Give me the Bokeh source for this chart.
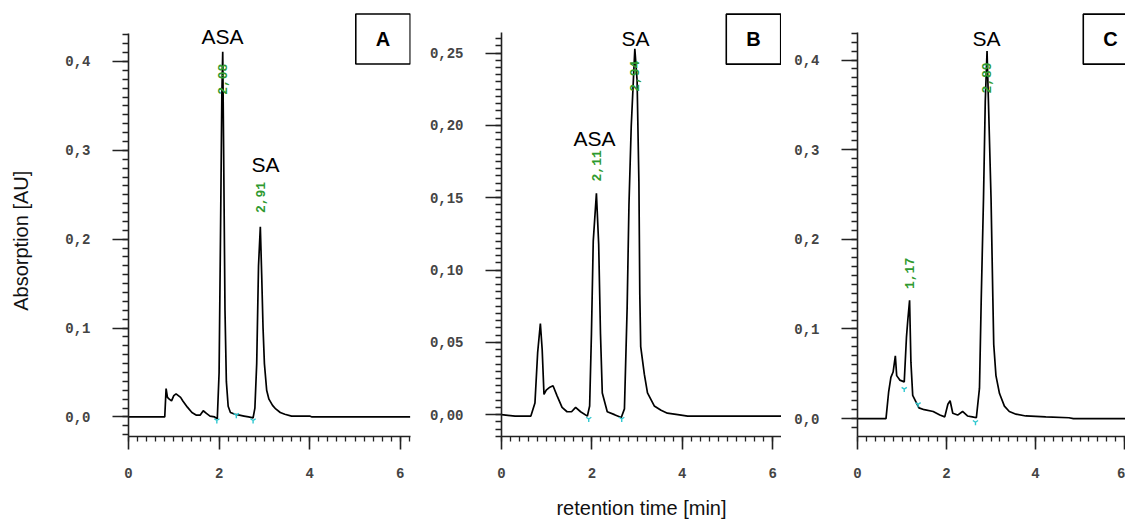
import numpy as np
from bokeh.plotting import figure
from bokeh.layouts import row
from bokeh.models import Range1d, FixedTicker, Label
from bokeh.embed import file_html
from bokeh.resources import INLINE

# ---------------- data ----------------
A_t = [0.00, 0.80, 0.83, 0.86, 0.90, 0.95, 1.00, 1.05, 1.10, 1.15, 1.20, 1.30, 1.40, 1.50, 1.58, 1.65, 1.72,
       1.80, 1.90, 1.96, 2.00, 2.03, 2.06, 2.08, 2.10, 2.13, 2.16, 2.20, 2.25, 2.35, 2.45, 2.55, 2.65, 2.75,
       2.79, 2.83, 2.87, 2.91, 2.94, 2.97, 3.00, 3.05, 3.10, 3.18, 3.25, 3.35, 3.45, 3.60, 3.80, 4.00, 4.05, 6.22]
A_y = [0.000, 0.000, 0.032, 0.022, 0.020, 0.018, 0.024, 0.026, 0.024, 0.022, 0.018, 0.011, 0.005, 0.002, 0.002,
       0.007, 0.004, 0.001, 0.000, -0.002, 0.050, 0.200, 0.360, 0.411, 0.300, 0.120, 0.040, 0.012, 0.005, 0.003,
       0.002, 0.001, 0.000, -0.001, 0.010, 0.060, 0.170, 0.214, 0.160, 0.100, 0.060, 0.030, 0.020, 0.013, 0.009,
       0.005, 0.003, 0.001, 0.001, 0.001, 0.000, 0.000]

B_t = [0.00, 0.30, 0.65, 0.74, 0.80, 0.86, 0.90, 0.94, 0.99, 1.07, 1.14, 1.23, 1.34, 1.45, 1.55, 1.64, 1.75,
       1.90, 1.95, 1.99, 2.03, 2.10, 2.15, 2.19, 2.23, 2.34, 2.50, 2.65, 2.72, 2.78, 2.82, 2.87, 2.95, 3.00,
       3.04, 3.06, 3.08, 3.16, 3.23, 3.38, 3.53, 3.67, 3.90, 4.12, 6.20]
B_y = [0.000, -0.001, -0.001, 0.008, 0.043, 0.063, 0.045, 0.014, 0.017, 0.019, 0.020, 0.013, 0.005, 0.002,
       0.002, 0.005, 0.002, -0.001, 0.006, 0.056, 0.120, 0.153, 0.118, 0.056, 0.015, 0.002, 0.000, -0.002,
       0.004, 0.074, 0.145, 0.199, 0.253, 0.231, 0.161, 0.083, 0.047, 0.028, 0.015, 0.006, 0.003, 0.001,
       0.000, -0.001, -0.001]

C_t = [0.00, 0.64, 0.70, 0.75, 0.80, 0.85, 0.88, 0.95, 1.05, 1.10, 1.13, 1.17, 1.20, 1.24, 1.31, 1.38, 1.50,
       1.70, 1.85, 1.96, 2.03, 2.08, 2.14, 2.25, 2.36, 2.47, 2.58, 2.67, 2.74, 2.78, 2.83, 2.87, 2.91, 2.94,
       3.00, 3.04, 3.06, 3.11, 3.19, 3.30, 3.41, 3.56, 3.78, 4.23, 4.75, 4.85, 6.02]
C_y = [0.000, 0.000, 0.030, 0.046, 0.052, 0.070, 0.048, 0.043, 0.041, 0.091, 0.110, 0.132, 0.063, 0.026,
       0.019, 0.012, 0.010, 0.008, 0.004, 0.002, 0.016, 0.020, 0.006, 0.004, 0.008, 0.003, 0.002, 0.001,
       0.034, 0.135, 0.245, 0.354, 0.410, 0.356, 0.245, 0.135, 0.083, 0.048, 0.028, 0.014, 0.008, 0.005,
       0.003, 0.002, 0.001, 0.000, 0.000]

# retention-time labels (value, label height)
A_rt = [2.08, 2.91]; A_rt_y = [0.380, 0.247]; A_rt_txt = ["2,08", "2,91"]
B_rt = [2.11, 2.94]; B_rt_y = [0.172, 0.234]; B_rt_txt = ["2,11", "2,94"]
C_rt = [1.17, 2.89]; C_rt_y = [0.162, 0.380]; C_rt_txt = ["1,17", "2,89"]

# integration marks (cyan)
A_mk_t = [1.95, 2.38, 2.75]; A_mk_y = [-0.004, 0.002, -0.004]
B_mk_t = [1.93, 2.66];       B_mk_y = [-0.003, -0.003]
C_mk_t = [1.05, 1.36, 2.65]; C_mk_y = [0.033, 0.016, -0.004]

x_ticks = [0, 2, 4, 6]
x_tick_labels = ["0", "2", "4", "6"]
A_yticks = [0.0, 0.1, 0.2, 0.3, 0.4]; A_ylabels = ["0,0", "0,1", "0,2", "0,3", "0,4"]
B_yticks = [0.0, 0.05, 0.10, 0.15, 0.20, 0.25]; B_ylabels = ["0,00", "0,05", "0,10", "0,15", "0,20", "0,25"]
C_yticks = [0.0, 0.1, 0.2, 0.3, 0.4]; C_ylabels = ["0,0", "0,1", "0,2", "0,3", "0,4"]

# ---------------- layout geometry (page pixels) ----------------
# frames reach the top of the canvas (so the boxed letters are not clipped);
# the visible y axes are limited with `bounds`.
H = 521
geomA = dict(fig_left=0, fig_w=418, left=128, right=410, top=0, bottom=442,
             xr=(0, 6.225), yr=(-0.022, 0.432 + 33 / 900.9), ybounds=(-0.022, 0.432))
geomB = dict(fig_left=418, fig_w=363, left=501, right=781, top=0, bottom=440,
             xr=(0, 6.195), yr=(-0.0151, 0.2644 + 32 / 1460.0), ybounds=(-0.0151, 0.2644))
geomC = dict(fig_left=781, fig_w=344, left=857, right=1125, top=0, bottom=440,
             xr=(0, 6.02), yr=(-0.0199, 0.431 + 32 / 905.0), ybounds=(-0.0199, 0.431))


def to_data(g, px, py):
    xs, xe = g["xr"]
    ys, ye = g["yr"]
    x = xs + (px - g["left"]) / (g["right"] - g["left"]) * (xe - xs)
    y = ys + (g["bottom"] - py) / (g["bottom"] - g["top"]) * (ye - ys)
    return x, y


TICK_FONT = "Liberation Mono"
TEXT_FONT = "Liberation Sans"


def make_fig(g, t, yv, yticks, ylabels, yminor, rt, rt_y, rt_txt, mk_t, mk_y):
    p = figure(width=g["fig_w"], height=H, output_backend="svg", toolbar_location=None,
               x_range=Range1d(*g["xr"]), y_range=Range1d(*g["yr"]))
    p.min_border_left = g["left"] - g["fig_left"]
    p.min_border_right = g["fig_left"] + g["fig_w"] - g["right"]
    p.min_border_top = g["top"]
    p.min_border_bottom = H - g["bottom"]
    p.outline_line_color = None
    p.xgrid.visible = False
    p.ygrid.visible = False
    p.background_fill_color = "white"
    p.border_fill_color = "white"

    p.xaxis.ticker = FixedTicker(ticks=x_ticks, minor_ticks=list(np.round(np.arange(0, g["xr"][1] + 0.001, 0.2), 3)))
    p.xaxis.major_label_overrides = {float(k): v for k, v in zip(x_ticks, x_tick_labels)}
    p.yaxis.ticker = FixedTicker(ticks=yticks, minor_ticks=yminor)
    p.yaxis.major_label_overrides = {float(k): v for k, v in zip(yticks, ylabels)}
    p.yaxis.bounds = g["ybounds"]

    for ax in (p.xaxis[0], p.yaxis[0]):
        ax.axis_line_color = "#222222"
        ax.axis_line_width = 1.6
        ax.major_tick_line_color = "#222222"
        ax.major_tick_line_width = 1.6
        ax.minor_tick_line_color = "#222222"
        ax.minor_tick_line_width = 1.3
        ax.major_tick_in = 0
        ax.minor_tick_in = 0
        ax.major_label_text_font = TICK_FONT
        ax.major_label_text_font_size = "14px"
        ax.major_label_text_font_style = "bold"
        ax.major_label_text_color = "#444444"
        ax.axis_label_text_font = TEXT_FONT
        ax.axis_label_text_font_size = "20px"
        ax.axis_label_text_font_style = "normal"
        ax.axis_label_text_color = "#111111"
    p.xaxis.major_tick_out = 13
    p.xaxis.minor_tick_out = 5
    p.xaxis.major_label_standoff = 18
    p.yaxis.major_tick_out = 16
    p.yaxis.minor_tick_out = 6
    p.yaxis.major_label_standoff = 22

    p.line(t, yv, line_color="black", line_width=1.7)
    p.scatter(mk_t, mk_y, marker="y", size=6, line_color="#30c8d0", line_width=1.4)
    for xv, yy, tx in zip(rt, rt_y, rt_txt):
        p.add_layout(Label(x=xv, y=yy, text=tx, angle=np.pi / 2, text_align="center", text_baseline="middle",
                           text_font=TICK_FONT, text_font_size="13px", text_font_style="bold",
                           text_color="#2f9a2f"))
    return p


def peak_label(p, g, px, py, txt):
    x, y = to_data(g, px, py)
    p.add_layout(Label(x=x, y=y, text=txt, text_align="center", text_baseline="middle",
                       text_font=TEXT_FONT, text_font_size="21px", text_color="black"))


def box_label(p, g, px, py, txt):
    x, y = to_data(g, px, py)
    p.add_layout(Label(x=x, y=y, text=txt, text_align="center", text_baseline="middle",
                       text_font=TEXT_FONT, text_font_size="20px", text_font_style="bold", text_color="black",
                       border_line_color="black", border_line_width=1.6, background_fill_color="white",
                       padding=(20, 14)))


pA = make_fig(geomA, A_t, A_y, A_yticks, A_ylabels, list(np.round(np.arange(-0.02, 0.431, 0.01), 3)),
              A_rt, A_rt_y, A_rt_txt, A_mk_t, A_mk_y)
pB = make_fig(geomB, B_t, B_y, B_yticks, B_ylabels, list(np.round(np.arange(-0.015, 0.2641, 0.005), 4)),
              B_rt, B_rt_y, B_rt_txt, B_mk_t, B_mk_y)
pC = make_fig(geomC, C_t, C_y, C_yticks, C_ylabels, list(np.round(np.arange(-0.01, 0.431, 0.01), 3)),
              C_rt, C_rt_y, C_rt_txt, C_mk_t, C_mk_y)

peak_label(pA, geomA, 222, 36, "ASA")
peak_label(pA, geomA, 265, 166, "SA")
peak_label(pB, geomB, 594, 139, "ASA")
peak_label(pB, geomB, 635, 38, "SA")
peak_label(pC, geomC, 986, 38, "SA")

box_label(pA, geomA, 382.5, 39, "A")
box_label(pB, geomB, 753, 39, "B")
box_label(pC, geomC, 1110, 39, "C")

# axis titles (trailing no-break spaces move the rotated title down a little,
# so that it is centred on the visible axis rather than on the taller frame)
pA.yaxis.axis_label = "Absorption [AU]" + "\u00a0" * 8
pA.yaxis.axis_label_standoff = 30
pB.xaxis.axis_label = "retention time [min]"
pB.xaxis.axis_label_standoff = 16

layout = row(pA, pB, pC, spacing=0)
open("out.html", "w").write(file_html(layout, INLINE))
